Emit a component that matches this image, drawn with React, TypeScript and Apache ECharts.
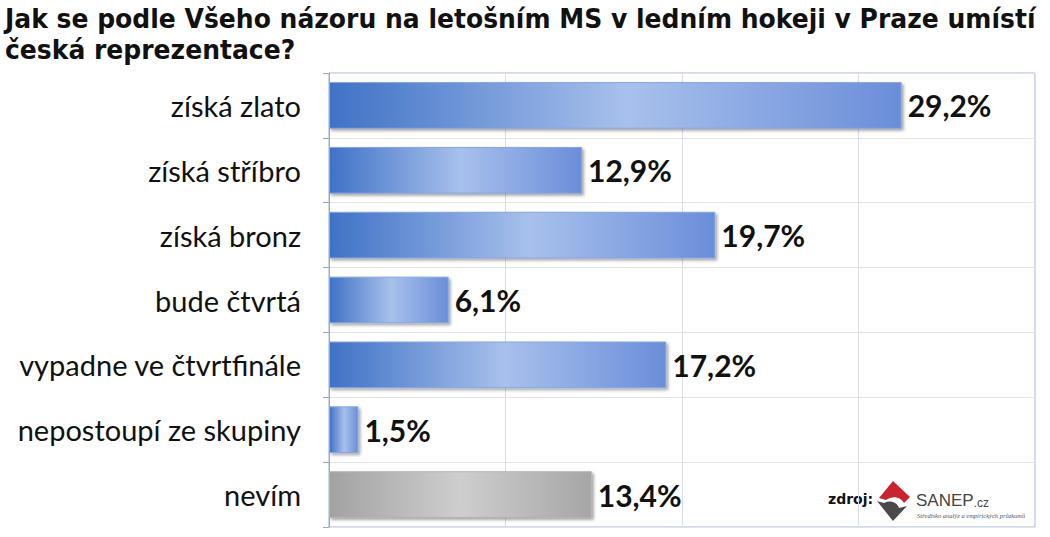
import React, { useEffect, useRef } from "react";
import * as echarts from "echarts";

const titleLines = [
  "Jak se podle Všeho názoru na letošním MS v ledním hokeji v Praze umístí",
  "česká reprezentace?",
];
const categories = [
  "získá zlato",
  "získá stříbro",
  "získá bronz",
  "bude čtvrtá",
  "vypadne ve čtvrtfinále",
  "nepostoupí ze skupiny",
  "nevím",
];
const values = [29.2, 12.9, 19.7, 6.1, 17.2, 1.5, 13.4];
const greyCategory = "nevím";

const blueGrad = new echarts.graphic.LinearGradient(0, 0, 1, 0, [
  { offset: 0, color: "#3f72c6" },
  { offset: 0.52, color: "#a8c0ec" },
  { offset: 1, color: "#6a8ed9" },
]);
const greyGrad = new echarts.graphic.LinearGradient(0, 0, 1, 0, [
  { offset: 0, color: "#a2a2a2" },
  { offset: 0.5, color: "#cecece" },
  { offset: 1, color: "#a6a6a6" },
]);

echarts.graphic.registerShape(
  "sanepRed",
  echarts.graphic.extendPath(
    "M17 0 L34 16 L28 22 C25 16 17 14 10 19 L3 17 Z",
    {}
  )
);
echarts.graphic.registerShape(
  "sanepGrey",
  echarts.graphic.extendPath(
    "M1 20 L8 22 C14 19 21 21 23 27 L31 25 L17 40 Z",
    {}
  )
);

export default function App() {
  const ref = useRef<HTMLDivElement>(null);
  useEffect(() => {
    const chart = echarts.init(ref.current!, undefined, { renderer: "svg" });
    chart.setOption({
      animation: false,
      backgroundColor: "#ffffff",
      grid: {
        left: 329,
        right: 15,
        top: 73,
        bottom: 10,
        show: true,
        borderColor: "#9db2dc",
        borderWidth: 1,
      },
      xAxis: {
        type: "value",
        min: 0,
        max: 36,
        interval: 9,
        axisLabel: { show: false },
        axisLine: { show: false },
        axisTick: { show: false },
        splitLine: { show: true, lineStyle: { color: "#d6dcea", width: 1 } },
      },
      yAxis: {
        type: "category",
        inverse: true,
        data: categories,
        axisLine: { show: true, lineStyle: { color: "#a6a6a6" } },
        axisTick: { show: true, length: 6, lineStyle: { color: "#a6a6a6" } },
        splitLine: { show: true, lineStyle: { color: "#e3e3e3" } },
        axisLabel: {
          fontFamily: "Lato",
          fontSize: 29,
          color: "#111111",
          margin: 28,
        },
      },
      series: [
        {
          type: "bar",
          barCategoryGap: "28%",
          data: values.map((v, i) => ({
            value: v,
            itemStyle: {
              color: categories[i] === greyCategory ? greyGrad : blueGrad,
              borderColor: categories[i] === greyCategory ? "#b5b5b5" : "#87a5dc",
              borderWidth: 1,
              shadowColor: "rgba(0,0,0,0.35)",
              shadowBlur: 3,
              shadowOffsetX: 2,
              shadowOffsetY: 2,
            },
          })),
          label: {
            show: true,
            position: "right",
            distance: 6,
            fontFamily: "Lato",
            fontWeight: "bold",
            fontSize: 30,
            color: "#111111",
            formatter: (p: any) => String(p.value).replace(".", ",") + "%",
          },
        },
      ],
      graphic: [
        {
          type: "text",
          x: 5,
          y: 3,
          scaleX: 0.928,
          style: {
            text: titleLines.join("\n"),
            fontFamily: "DejaVu Sans",
            fontWeight: "bold",
            fontSize: 27,
            lineHeight: 31,
            fill: "#111111",
          },
        },
        {
          type: "text",
          left: 828,
          top: 492,
          style: {
            text: "zdroj:",
            fontFamily: "DejaVu Sans",
            fontWeight: "bold",
            fontSize: 14,
            fill: "#111111",
          },
        },
        {
          type: "sanepRed",
          x: 876,
          y: 481,
          style: { fill: "#c8242f" },
        },
        {
          type: "sanepGrey",
          x: 876,
          y: 481,
          style: { fill: "#4a4a4a" },
        },
        {
          type: "text",
          left: 916,
          top: 492,
          style: {
            text: "{a|SANEP}{b|.cz}",
            rich: {
              a: {
                fontFamily: "Liberation Sans",
                fontSize: 17,
                fill: "#444444",
                color: "#444444",
                verticalAlign: "bottom",
                lineHeight: 18,
              },
              b: {
                fontFamily: "Liberation Sans",
                fontSize: 12,
                fill: "#444444",
                color: "#444444",
                verticalAlign: "bottom",
                lineHeight: 17,
              },
            },
          },
        },
        {
          type: "text",
          left: 917,
          top: 512,
          style: {
            text: "Středisko analýz a empirických průzkumů",
            fontFamily: "Liberation Serif",
            fontStyle: "italic",
            fontSize: 6.5,
            fill: "#555555",
          },
        },
      ],
    });
    return () => chart.dispose();
  }, []);
  return (
    <div
      ref={ref}
      style={{ position: "fixed", left: 0, top: 0, width: 1050, height: 537 }}
    />
  );
}
